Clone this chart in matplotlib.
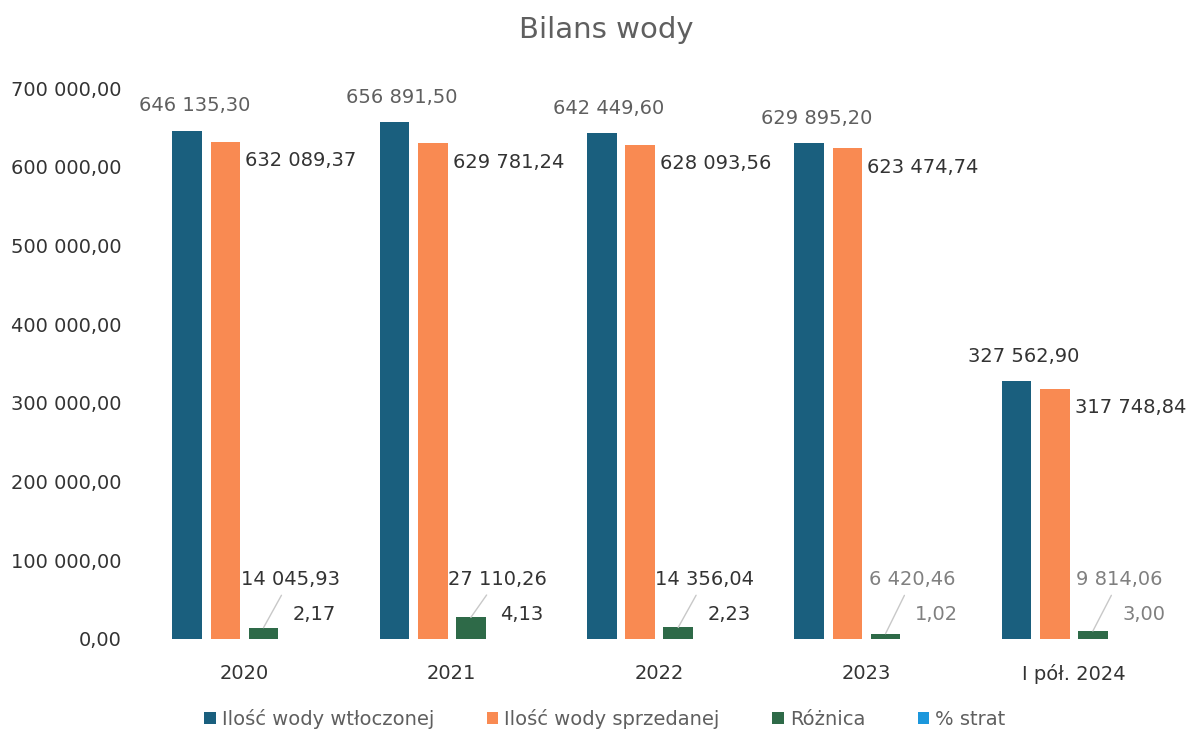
import matplotlib
matplotlib.use("Agg")
import matplotlib.pyplot as plt
from matplotlib.patches import Patch
from matplotlib.ticker import FuncFormatter, MultipleLocator
import numpy as np

# data
categories = ["2020", "2021", "2022", "2023", "I pół. 2024"]
wtloczona = [646135.30, 656891.50, 642449.60, 629895.20, 327562.90]
sprzedana = [632089.37, 629781.24, 628093.56, 623474.74, 317748.84]
roznica = [14045.93, 27110.26, 14356.04, 6420.46, 9814.06]
straty_pct = [2.17, 4.13, 2.23, 1.02, 3.00]

series_names = ["Ilość wody wtłoczonej", "Ilość wody sprzedanej", "Różnica", "% strat"]
colors = ["#1a5f7e", "#f98a52", "#2e6a48", "#1c97dc"]

plt.rcParams['font.family'] = ['DejaVu Sans']


def fmt(v, pos=None):
    return f"{v:,.2f}".replace(",", " ").replace(".", ",")


fig = plt.figure(figsize=(11.93, 7.35), dpi=100)
ax = fig.add_axes([0.118, 0.131, 0.869, 0.749])

x = np.arange(len(categories))
step = 0.184
width = 0.143
offsets = (np.arange(4) - 1.5) * step
all_series = [wtloczona, sprzedana, roznica, straty_pct]

for k, vals in enumerate(all_series):
    ax.bar(x + offsets[k], vals, width=width, color=colors[k], zorder=2)

fs = 14
dark = "#333333"
mid = "#5f5f5f"
light = "#808080"
blue_lbl = [mid, mid, mid, mid, dark]
small_lbl = [dark, dark, dark, light, light]

for i in range(len(categories)):
    # blue labels above the bar
    ax.annotate(fmt(wtloczona[i]), (x[i] + offsets[0], wtloczona[i]),
                xytext=(7, 25), textcoords='offset pixels',
                ha='center', va='center', fontsize=fs, color=blue_lbl[i])
    # orange labels to the right, just below the top
    ax.annotate(fmt(sprzedana[i]), (x[i] + offsets[1] + width / 2, sprzedana[i]),
                xytext=(5, -19), textcoords='offset pixels',
                ha='left', va='center', fontsize=fs, color=dark)
    # difference label with leader line
    ax.annotate(fmt(roznica[i]), (x[i] + offsets[2], roznica[i]),
                xytext=(x[i] + offsets[3] - 0.055, 75500), textcoords='data',
                ha='center', va='center', fontsize=fs, color=small_lbl[i],
                arrowprops=dict(arrowstyle='-', color='#c8c8c8', lw=1,
                                shrinkA=3, shrinkB=0))
    # loss percentage label
    ax.annotate(f"{straty_pct[i]:.2f}".replace(".", ","), (x[i] + offsets[3], straty_pct[i]),
                xytext=(13, 24), textcoords='offset pixels',
                ha='center', va='center', fontsize=fs, color=small_lbl[i])

ax.set_xlim(-0.5, len(categories) - 0.5)
ax.set_ylim(0, 700000)
ax.yaxis.set_major_locator(MultipleLocator(100000))
ax.yaxis.set_major_formatter(FuncFormatter(fmt))
ax.set_xticks(x)
ax.set_xticklabels(categories)
ax.tick_params(axis='both', length=0, labelsize=fs, labelcolor=dark)
ax.tick_params(axis='y', pad=14)
ax.tick_params(axis='x', pad=18)
for s in ax.spines.values():
    s.set_visible(False)

fig.text(0.508, 0.959, "Bilans wody", ha='center', va='center',
         fontsize=21, color=mid)

handles = [Patch(facecolor=colors[k], label=series_names[k]) for k in range(4)]
fig.legend(handles=handles, loc='center', bbox_to_anchor=(0.507, 0.022), ncol=4,
           frameon=False, fontsize=14, labelcolor=mid, handlelength=0.6,
           handleheight=0.6, handletextpad=0.3, columnspacing=2.7)

fig.savefig("out.png", dpi=100)
